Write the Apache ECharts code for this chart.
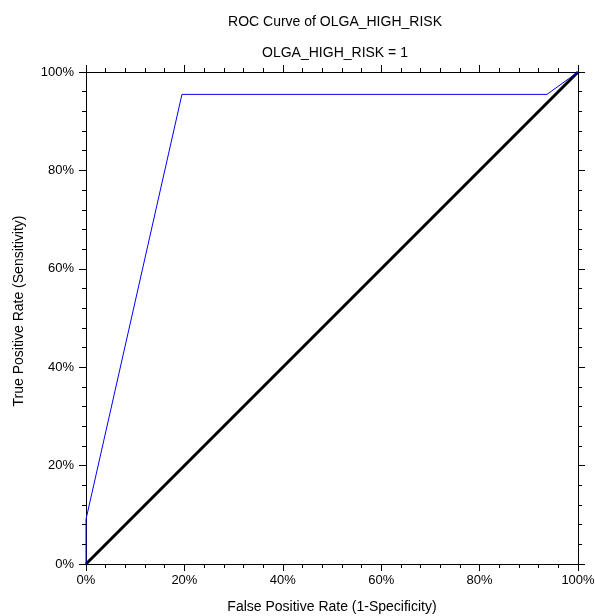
<!DOCTYPE html>
<html>
<head>
<meta charset="utf-8">
<script src="https://cdn.jsdelivr.net/npm/echarts@6/dist/echarts.min.js"></script>
<style>
  html, body { margin: 0; padding: 0; background: #fff; }
  #chart { width: 595px; height: 616px; }
</style>
</head>
<body>
<div id="chart"></div>
<script>
// ROC 曲线数据
const fpr = [0, 0, 0.195, 0.937, 1]
const tpr = [0, 0.0909, 0.9545, 0.9545, 1]
const refLine = [[0, 0], [1, 1]]
const tickLabels = ['0%', '20%', '40%', '60%', '80%', '100%']

const rocPoints = fpr.map((x, i) => [x, tpr[i]])
const fontFamily = '"Liberation Sans", Arial, sans-serif'

function pctLabel (v) {
  return tickLabels[Math.round(v * 5)]
}

// 坐标轴公共样式
function axisBase (extra) {
  return Object.assign({
    type: 'value',
    min: 0,
    max: 1,
    interval: 0.2,
    axisLine: { show: true, onZero: false, lineStyle: { color: '#000', width: 1 } },
    axisTick: { show: true, inside: false, length: 7, lineStyle: { color: '#000' } },
    minorTick: { show: true, splitNumber: 5, length: 4, lineStyle: { color: '#000' } },
    splitLine: { show: false },
    axisLabel: { color: '#000', fontSize: 13, fontFamily: fontFamily, formatter: pctLabel, margin: 12 }
  }, extra)
}

let chart = echarts.init(document.getElementById('chart'))
chart.setOption({
  animation: false,
  title: [
    {
      text: 'ROC Curve of OLGA_HIGH_RISK',
      left: 330, top: 10, textAlign: 'center',
      textStyle: { color: '#000', fontSize: 14, fontWeight: 'normal', fontFamily: fontFamily }
    },
    {
      text: 'OLGA_HIGH_RISK = 1',
      left: 330, top: 41, textAlign: 'center',
      textStyle: { color: '#000', fontSize: 14, fontWeight: 'normal', fontFamily: fontFamily }
    }
  ],
  grid: { left: 86, right: 17, top: 72, bottom: 52, containLabel: false, outerBoundsMode: 'none' },
  xAxis: [
    axisBase({
      position: 'bottom',
      name: 'False Positive Rate (1-Specificity)',
      nameLocation: 'middle',
      nameGap: 36,
      nameTextStyle: { color: '#000', fontSize: 14, fontFamily: fontFamily },
      axisLabel: { color: '#000', fontSize: 13, fontFamily: fontFamily, formatter: pctLabel, margin: 10 }
    }),
    axisBase({ position: 'top', axisLabel: { show: false } })
  ],
  yAxis: [
    axisBase({ position: 'left' }),
    axisBase({ position: 'right', axisLabel: { show: false } })
  ],
  // y轴标题稍偏上，用graphic放置
  graphic: [
    {
      type: 'text',
      x: 19,
      y: 311,
      rotation: Math.PI / 2,
      style: {
        text: 'True Positive Rate (Sensitivity)',
        fill: '#000',
        font: '14px ' + fontFamily,
        align: 'center',
        verticalAlign: 'middle'
      }
    }
  ],
  series: [
    {
      type: 'line',
      data: refLine,
      showSymbol: false,
      lineStyle: { color: '#000', width: 3 },
      z: 2
    },
    {
      type: 'line',
      data: rocPoints,
      showSymbol: false,
      lineStyle: { color: '#0000ff', width: 1 },
      z: 3
    }
  ]
})
</script>
</body>
</html>
